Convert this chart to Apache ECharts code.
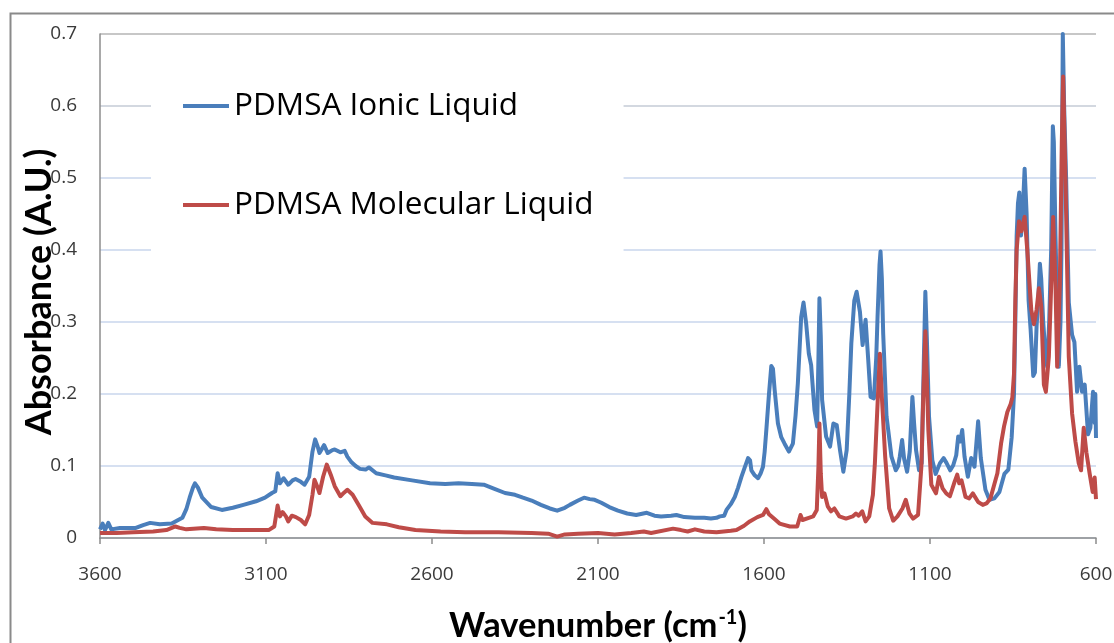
<!DOCTYPE html>
<html>
<head>
<meta charset="utf-8">
<title>PDMSA FTIR spectra</title>
<script src="https://cdn.jsdelivr.net/npm/echarts@6/dist/echarts.min.js"></script>
<style>
  html, body { margin: 0; padding: 0; background: #ffffff; }
  #chart { width: 1114px; height: 643px; }
</style>
</head>
<body>
<div id="chart"></div>
<script>
// FTIR absorbance spectra, wavenumber (cm-1) vs absorbance, high to low wavenumber.
const seriesNames = ['PDMSA Ionic Liquid', 'PDMSA Molecular Liquid'];

const xTicks = [3600, 3100, 2600, 2100, 1600, 1100, 600];
const yTicks = [0, 0.1, 0.2, 0.3, 0.4, 0.5, 0.6, 0.7];

// Ionic liquid: [wavenumber, absorbance]
const ionicWavenumber = [
  3600, 3592, 3585, 3575, 3566, 3540, 3492, 3470, 3449, 3420, 3384, 3352, 3340, 3330, 3320, 3314, 3305, 3292, 3265, 3233,
  3200, 3168, 3130, 3103, 3082, 3072, 3065, 3058, 3047, 3033, 3020, 3011, 2995, 2984, 2970, 2960, 2952, 2945, 2939, 2925,
  2914, 2900, 2893, 2876, 2863, 2855, 2844, 2830, 2817, 2800, 2790, 2768, 2740, 2714, 2660, 2606, 2560, 2520, 2480, 2444,
  2410, 2380, 2350, 2326, 2300, 2272, 2245, 2223, 2200, 2185, 2160, 2142, 2125, 2110, 2090, 2066, 2040, 2012, 1985, 1953,
  1930, 1910, 1880, 1864, 1840, 1808, 1780, 1760, 1743, 1733, 1720, 1713, 1700, 1688, 1678, 1668, 1658, 1648, 1642, 1638,
  1628, 1618, 1610, 1603, 1598, 1593, 1585, 1578, 1573, 1568, 1558, 1548, 1538, 1525, 1513, 1505, 1498, 1488, 1481, 1473,
  1465, 1458, 1448, 1440, 1436, 1433, 1429, 1425, 1413, 1401, 1391, 1381, 1371, 1361, 1351, 1343, 1337, 1328, 1321, 1311,
  1303, 1294, 1286, 1279, 1269, 1262, 1258, 1252, 1249, 1245, 1241, 1231, 1216, 1203, 1196, 1191, 1184, 1178, 1169, 1161,
  1153, 1148, 1142, 1133, 1125, 1119, 1114, 1109, 1103, 1093, 1083, 1070, 1059, 1050, 1039, 1030, 1021, 1015, 1009, 1003,
  996, 986, 976, 966, 955, 947, 933, 921, 906, 891, 876, 864, 854, 847, 843, 839, 835, 831, 826, 822,
  815, 809, 803, 797, 789, 784, 779, 774, 769, 765, 759, 753, 747, 741, 735, 730, 727, 722, 716, 712,
  707, 704, 700, 696, 690, 682, 672, 665, 657, 650, 642, 634, 624, 617, 609, 604, 602, 600
];
const ionicAbsorbance = [
  0.012, 0.020, 0.011, 0.021, 0.012, 0.014, 0.014, 0.018, 0.021, 0.019, 0.020, 0.028, 0.040, 0.056, 0.070, 0.076, 0.070, 0.056, 0.043, 0.039,
  0.042, 0.046, 0.051, 0.056, 0.0625, 0.065, 0.090, 0.076, 0.083, 0.074, 0.080, 0.082, 0.078, 0.074, 0.085, 0.120, 0.137, 0.128, 0.118, 0.129,
  0.118, 0.122, 0.123, 0.119, 0.121, 0.113, 0.106, 0.100, 0.096, 0.095, 0.098, 0.090, 0.087, 0.084, 0.080, 0.076, 0.075, 0.076, 0.075, 0.074,
  0.068, 0.0625, 0.060, 0.056, 0.052, 0.046, 0.041, 0.038, 0.042, 0.046, 0.052, 0.056, 0.054, 0.053, 0.049, 0.043, 0.038, 0.034, 0.032, 0.035,
  0.031, 0.030, 0.031, 0.032, 0.029, 0.028, 0.028, 0.027, 0.028, 0.030, 0.031, 0.039, 0.047, 0.057, 0.070, 0.085, 0.098, 0.111, 0.108, 0.094,
  0.087, 0.083, 0.090, 0.099, 0.120, 0.150, 0.200, 0.239, 0.235, 0.206, 0.159, 0.140, 0.131, 0.120, 0.131, 0.170, 0.215, 0.307, 0.327, 0.298,
  0.256, 0.240, 0.178, 0.155, 0.250, 0.333, 0.280, 0.192, 0.141, 0.127, 0.159, 0.157, 0.122, 0.092, 0.122, 0.200, 0.270, 0.330, 0.342, 0.314,
  0.268, 0.303, 0.247, 0.196, 0.194, 0.250, 0.307, 0.380, 0.398, 0.360, 0.284, 0.169, 0.113, 0.094, 0.100, 0.113, 0.136, 0.110, 0.092, 0.120,
  0.196, 0.160, 0.122, 0.094, 0.104, 0.238, 0.342, 0.270, 0.169, 0.108, 0.089, 0.104, 0.111, 0.104, 0.094, 0.101, 0.115, 0.141, 0.134, 0.150,
  0.113, 0.085, 0.111, 0.099, 0.162, 0.111, 0.067, 0.053, 0.055, 0.064, 0.089, 0.095, 0.140, 0.200, 0.300, 0.420, 0.465, 0.480, 0.420, 0.440,
  0.513, 0.450, 0.330, 0.290, 0.225, 0.230, 0.294, 0.330, 0.381, 0.360, 0.300, 0.260, 0.238, 0.300, 0.401, 0.572, 0.550, 0.420, 0.300, 0.238,
  0.300, 0.401, 0.700, 0.600, 0.500, 0.327, 0.282, 0.272, 0.203, 0.238, 0.203, 0.213, 0.144, 0.153, 0.203, 0.160, 0.200, 0.139
];

// Molecular liquid: [wavenumber, absorbance]
const molecularWavenumber = [
  3600, 3550, 3500, 3440, 3400, 3373, 3360, 3340, 3287, 3250, 3200, 3150, 3092, 3075, 3065, 3058, 3050, 3040, 3033, 3022,
  3010, 2995, 2982, 2970, 2960, 2954, 2946, 2939, 2928, 2917, 2905, 2893, 2876, 2865, 2855, 2839, 2820, 2801, 2779, 2736,
  2700, 2650, 2574, 2500, 2400, 2300, 2250, 2223, 2200, 2160, 2100, 2050, 2000, 1962, 1940, 1874, 1850, 1830, 1808, 1780,
  1743, 1700, 1683, 1660, 1643, 1620, 1603, 1593, 1585, 1570, 1553, 1522, 1500, 1490, 1484, 1465, 1452, 1441, 1436, 1433,
  1429, 1425, 1418, 1408, 1398, 1388, 1373, 1353, 1333, 1323, 1315, 1304, 1294, 1283, 1272, 1266, 1256, 1251, 1245, 1235,
  1223, 1211, 1198, 1183, 1173, 1162, 1151, 1136, 1126, 1120, 1114, 1105, 1096, 1082, 1073, 1062, 1051, 1040, 1026, 1018,
  1012, 1005, 993, 982, 971, 955, 941, 930, 918, 906, 897, 886, 877, 867, 857, 852, 847, 843, 839, 832,
  825, 815, 807, 795, 787, 779, 772, 765, 757, 751, 742, 735, 729, 722, 717, 709, 703, 699, 695, 692,
  682, 672, 662, 652, 645, 637, 629, 619, 610, 604, 600
];
const molecularAbsorbance = [
  0.007, 0.007, 0.008, 0.009, 0.011, 0.016, 0.014, 0.012, 0.014, 0.012, 0.011, 0.011, 0.011, 0.016, 0.045, 0.030, 0.036, 0.030, 0.023, 0.031,
  0.029, 0.025, 0.019, 0.032, 0.060, 0.081, 0.072, 0.0625, 0.085, 0.102, 0.088, 0.072, 0.058, 0.063, 0.067, 0.060, 0.045, 0.030, 0.021, 0.019,
  0.015, 0.011, 0.009, 0.008, 0.008, 0.007, 0.006, 0.002, 0.005, 0.006, 0.007, 0.005, 0.007, 0.009, 0.007, 0.013, 0.011, 0.009, 0.012, 0.009,
  0.008, 0.010, 0.011, 0.017, 0.023, 0.029, 0.032, 0.040, 0.033, 0.027, 0.020, 0.016, 0.016, 0.032, 0.025, 0.028, 0.030, 0.039, 0.100, 0.159,
  0.090, 0.057, 0.062, 0.044, 0.037, 0.041, 0.030, 0.027, 0.030, 0.034, 0.031, 0.037, 0.023, 0.030, 0.060, 0.104, 0.206, 0.256, 0.196, 0.113,
  0.041, 0.024, 0.030, 0.041, 0.053, 0.034, 0.027, 0.032, 0.099, 0.200, 0.287, 0.150, 0.074, 0.062, 0.085, 0.069, 0.062, 0.058, 0.078, 0.088,
  0.076, 0.080, 0.057, 0.055, 0.062, 0.050, 0.046, 0.048, 0.055, 0.075, 0.090, 0.131, 0.155, 0.175, 0.186, 0.195, 0.228, 0.330, 0.400, 0.440,
  0.426, 0.446, 0.400, 0.317, 0.297, 0.317, 0.347, 0.322, 0.213, 0.203, 0.252, 0.350, 0.446, 0.351, 0.238, 0.351, 0.550, 0.641, 0.560, 0.500,
  0.252, 0.173, 0.134, 0.104, 0.094, 0.153, 0.119, 0.089, 0.064, 0.084, 0.054
];

const seriesColors = ['#4a7ebb', '#be4b48'];

function pairs(xs, ys) {
  return xs.map((x, i) => [x, ys[i]]);
}

const chart = echarts.init(document.getElementById('chart'), null, { renderer: 'canvas' });

const tickFont = { fontFamily: 'Open Sans', fontSize: 19, color: '#3a3a3a' };

chart.setOption({
  animation: false,
  backgroundColor: '#ffffff',
  graphic: [
    {
      type: 'rect',
      left: 8, top: 11,
      shape: { width: 1130, height: 660 },
      style: { fill: 'none', stroke: '#8a8a8a', lineWidth: 2 },
      silent: true,
      z: -1
    },
    {
      type: 'text',
      x: 39, y: 292,
      rotation: Math.PI / 2,
      style: {
        text: 'Absorbance (A.U.)',
        font: 'bold 36px Lato',
        fill: '#000000',
        textAlign: 'center',
        textVerticalAlign: 'middle'
      }
    }
  ],
  grid: { left: 100, right: 18, top: 34, bottom: 105, containLabel: false, outerBoundsMode: 'none' },
  legend: {
    orient: 'vertical',
    left: 151, top: 57,
    padding: [30, 30, 40, 32],
    itemGap: 61,
    itemWidth: 46, itemHeight: 4,
    icon: 'rect',
    backgroundColor: '#ffffff',
    textStyle: { fontFamily: 'Open Sans', fontSize: 31.5, color: '#000000', lineHeight: 38 },
    data: seriesNames
  },
  xAxis: {
    type: 'value',
    inverse: true,
    min: 600, max: 3600, interval: 500,
    name: '{t|Wavenumber (cm}{s|-1}{t|)}',
    nameLocation: 'middle',
    nameGap: 70,
    nameTextStyle: {
      rich: {
        t: { fontFamily: 'Lato', fontWeight: 'bold', fontSize: 34.5, color: '#000000' },
        s: { fontFamily: 'Lato', fontWeight: 'bold', fontSize: 20, color: '#000000', verticalAlign: 'top', padding: [0, 0, 12, 1] }
      }
    },
    axisLine: { show: true, lineStyle: { color: '#8c8c8c', width: 1.5 } },
    axisTick: { show: true, length: 6, lineStyle: { color: '#8c8c8c', width: 1.5 } },
    axisLabel: Object.assign({ margin: 27, formatter: v => xTicks.includes(v) ? String(v) : '' }, tickFont),
    splitLine: { show: false }
  },
  yAxis: {
    type: 'value',
    min: 0, max: 0.7, interval: 0.1,
    axisLine: { show: true, lineStyle: { color: '#8c8c8c', width: 1.5 } },
    axisTick: { show: false },
    axisLabel: Object.assign({
      margin: 23,
      formatter: v => {
        const t = yTicks.find(k => Math.abs(k - v) < 1e-9);
        return t === undefined ? '' : (t === 0 ? '0' : t.toFixed(1));
      }
    }, tickFont),
    splitLine: {
      show: true,
      lineStyle: {
        color: ['#c9d6ec', '#c9d6ec', '#c9d6ec', '#c9d6ec', '#c9d6ec', '#c9d6ec', '#c4cbd6', '#b4b4b4'],
        width: 1.5
      }
    }
  },
  series: [
    {
      name: seriesNames[0],
      type: 'line',
      data: pairs(ionicWavenumber, ionicAbsorbance),
      showSymbol: false,
      symbol: 'none',
      lineStyle: { color: seriesColors[0], width: 4, join: 'round' },
      itemStyle: { color: seriesColors[0] },
      z: 2
    },
    {
      name: seriesNames[1],
      type: 'line',
      data: pairs(molecularWavenumber, molecularAbsorbance),
      showSymbol: false,
      symbol: 'none',
      lineStyle: { color: seriesColors[1], width: 4, join: 'round' },
      itemStyle: { color: seriesColors[1] },
      z: 3
    }
  ]
});
</script>
</body>
</html>
